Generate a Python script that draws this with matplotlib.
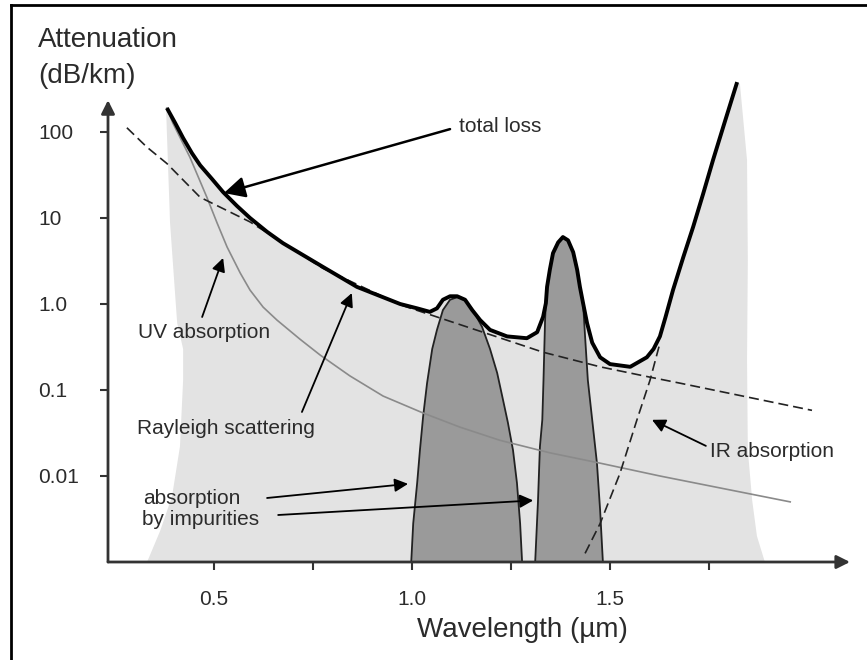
import matplotlib
matplotlib.use("Agg")
import matplotlib.pyplot as plt
from matplotlib.lines import Line2D

plt.rcParams['font.family'] = ['Liberation Sans', 'DejaVu Sans']

# total loss curve (wavelength in um, attenuation in dB/km)
total_wl = [0.381, 0.402, 0.422, 0.444, 0.465, 0.495, 0.523, 0.558, 0.591, 0.634,
            0.674, 0.725, 0.775, 0.861, 0.970, 1.013, 1.045, 1.063, 1.078, 1.096,
            1.114, 1.134, 1.152, 1.172, 1.197, 1.240, 1.290, 1.316, 1.331, 1.338,
            1.341, 1.348, 1.356, 1.369, 1.381, 1.394, 1.407, 1.417, 1.424, 1.432,
            1.442, 1.455, 1.475, 1.500, 1.551, 1.593, 1.610, 1.626, 1.640, 1.659,
            1.685, 1.710, 1.735, 1.760, 1.790, 1.821]
total_att = [190, 127, 85, 57, 41, 28.4, 20, 13.8, 10, 6.9,
             5.1, 3.7, 2.7, 1.58, 1.0, 0.89, 0.81, 0.89, 1.12, 1.23,
             1.23, 1.12, 0.85, 0.65, 0.50, 0.42, 0.40, 0.47, 0.71, 1.02,
             1.58, 2.5, 3.9, 5.2, 6.0, 5.5, 4.0, 2.5, 1.58, 1.02,
             0.60, 0.355, 0.24, 0.20, 0.186, 0.24, 0.30, 0.42, 0.70, 1.45,
             3.5, 7.9, 19, 47, 132, 380]

# Rayleigh scattering
rayleigh_wl = [0.280, 0.330, 0.381, 0.465, 0.591, 0.775, 0.970, 1.179, 1.331, 1.475, 1.601, 1.677, 2.010]
rayleigh_att = [112, 67, 43, 17.4, 9.0, 2.6, 0.98, 0.47, 0.275, 0.186, 0.141, 0.12, 0.058]

# UV absorption
uv_wl = [0.381, 0.396, 0.439, 0.482, 0.508, 0.533, 0.566, 0.591, 0.624, 0.659,
         0.717, 0.768, 0.843, 0.927, 1.028, 1.121, 1.222, 1.348, 1.475, 1.626, 1.955]
uv_att = [190, 127, 51, 17.4, 8.7, 4.6, 2.3, 1.45, 0.92, 0.65,
          0.39, 0.255, 0.146, 0.085, 0.054, 0.037, 0.026, 0.0186, 0.0141, 0.010, 0.0050]

# IR absorption
ir_wl = [1.437, 1.475, 1.525, 1.568, 1.601, 1.626]
ir_att = [0.00126, 0.0028, 0.0107, 0.045, 0.13, 0.35]

# impurity absorption peaks
peak1_wl = [0.998, 1.003, 1.013, 1.020, 1.028, 1.038, 1.051, 1.063, 1.078, 1.096,
            1.114, 1.129, 1.154, 1.177, 1.197, 1.215, 1.230, 1.242, 1.255, 1.265,
            1.273, 1.278]
peak1_att = [0.001, 0.0028, 0.0083, 0.020, 0.049, 0.12, 0.30, 0.50, 0.85, 1.12,
             1.20, 1.17, 0.85, 0.54, 0.30, 0.158, 0.076, 0.042, 0.020, 0.0083,
             0.0028, 0.001]
peak2_wl = [1.311, 1.318, 1.323, 1.329, 1.332, 1.336, 1.338, 1.341, 1.348, 1.356,
            1.369, 1.381, 1.394, 1.407, 1.417, 1.424, 1.432, 1.437, 1.444, 1.455,
            1.467, 1.475, 1.482]
peak2_att = [0.001, 0.0050, 0.022, 0.045, 0.13, 0.65, 1.02, 1.58, 2.5, 3.9,
             5.2, 6.0, 5.5, 4.0, 2.5, 1.58, 1.02, 0.42, 0.13, 0.045,
             0.0141, 0.004, 0.001]

# edges of the light grey band
band_left_wl = [0.331, 0.364, 0.394, 0.414, 0.422, 0.422, 0.407, 0.389, 0.379]
band_left_att = [0.001, 0.0023, 0.0058, 0.022, 0.13, 0.30, 0.60, 8.7, 182]
band_right_wl = [1.828, 1.846, 1.848, 1.846, 1.848, 1.859, 1.871, 1.891]
band_right_att = [363, 47, 3.2, 0.224, 0.020, 0.0052, 0.002, 0.001]

ytick_vals = [0.01, 0.1, 1, 10, 100]
ytick_labels = ['0.01', '0.1', '1.0', '10', '100']
xtick_vals = [0.5, 0.75, 1.0, 1.25, 1.5, 1.75]
xtick_labels = ['0.5', '', '1.0', '', '1.5', '']

W, H = 867, 660
fig = plt.figure(figsize=(W / 100, H / 100), dpi=100)
ax = fig.add_axes([108 / W, 98 / H, 742 / W, 502 / H])
ax.set_yscale('log')
x0, x1 = 0.2323, 2.106
y0, y1 = 1e-3, 10 ** 2.837
ax.set_xlim(x0, x1)
ax.set_ylim(y0, y1)

# grey band under the total loss curve
ax.fill(band_left_wl + total_wl + band_right_wl,
        band_left_att + total_att + band_right_att,
        color='#e3e3e3', lw=0, zorder=1)

# impurity peaks
ax.fill(peak1_wl, peak1_att, facecolor='#9a9a9a', edgecolor='#222222', lw=1.3, zorder=2)
ax.fill(peak2_wl, peak2_att, facecolor='#9a9a9a', edgecolor='#222222', lw=1.3, zorder=2)

ax.plot(uv_wl, uv_att, color='#8a8a8a', lw=1.2, zorder=3)
ax.plot(rayleigh_wl, rayleigh_att, color='#222222', lw=1.2, dashes=(6, 3), zorder=3)
ax.plot(ir_wl, ir_att, color='#222222', lw=1.2, dashes=(6, 3), zorder=3)
ax.plot(total_wl, total_att, color='black', lw=2.8, solid_capstyle='butt',
        solid_joinstyle='round', zorder=4)

# axes drawn as arrows
for s in ax.spines.values():
    s.set_visible(False)
axis_arrow = dict(arrowstyle='-|>', color='#333333', lw=2, mutation_scale=20, shrinkA=0, shrinkB=0)
ax.annotate('', xy=(x0, 10 ** 2.37), xytext=(x0, y0), arrowprops=axis_arrow, annotation_clip=False)
ax.annotate('', xy=(x1, y0), xytext=(x0, y0), arrowprops=axis_arrow, annotation_clip=False)

ax.set_yticks(ytick_vals)
ax.set_yticklabels(ytick_labels)
ax.yaxis.set_minor_locator(matplotlib.ticker.NullLocator())
ax.set_xticks(xtick_vals)
ax.set_xticklabels(xtick_labels)
ax.tick_params(axis='both', direction='out', length=6, width=1.5, color='#333333',
               labelsize=15, labelcolor='#2b2b2b')
ax.tick_params(axis='y', pad=44)
ax.tick_params(axis='x', pad=14)
for lab in ax.get_yticklabels():
    lab.set_horizontalalignment('left')

# axis titles
fig.text(38 / W, 1 - 40 / H, 'Attenuation', fontsize=20, color='#2b2b2b', va='center', ha='left')
fig.text(38 / W, 1 - 76 / H, '(dB/km)', fontsize=20, color='#2b2b2b', va='center', ha='left')
fig.text(522 / W, 1 - 630 / H, 'Wavelength (µm)', fontsize=20, color='#2b2b2b', va='center', ha='center')

# labels with arrows
txt = dict(fontsize=15, color='#2b2b2b', va='center', ha='left')
arrow = dict(arrowstyle='-|>', color='black', lw=1.3, mutation_scale=20, shrinkA=0, shrinkB=0)

ax.text(1.119, 10 ** 2.058, 'total loss', **txt)
ax.annotate('', xy=(0.525, 19.5), xytext=(1.096, 108),
            arrowprops=dict(arrow, lw=1.8, mutation_scale=32))

ax.text(0.308, 10 ** -0.326, 'UV absorption', **txt)
ax.annotate('', xy=(0.523, 3.43), xytext=(0.470, 0.706), arrowprops=arrow)

ax.text(0.306, 10 ** -1.442, 'Rayleigh scattering', **txt)
ax.annotate('', xy=(0.848, 1.34), xytext=(0.722, 0.0555), arrowprops=arrow)

ax.text(0.321, 10 ** -2.256, 'absorption', **txt)
ax.text(0.318, 10 ** -2.51, 'by impurities', **txt)
ax.annotate('', xy=(0.990, 0.0081), xytext=(0.634, 0.00555), arrowprops=arrow)
ax.annotate('', xy=(1.306, 0.0052), xytext=(0.662, 0.00352), arrowprops=arrow)

ax.text(1.753, 10 ** -1.72, 'IR absorption', **txt)
ax.annotate('', xy=(1.606, 0.045), xytext=(1.742, 0.0224), arrowprops=arrow)

# frame lines at top and left
fig.add_artist(Line2D([11 / W, 11 / W], [0, 1 - 5 / H], transform=fig.transFigure, color='black', lw=2))
fig.add_artist(Line2D([11 / W, 1], [1 - 5 / H, 1 - 5 / H], transform=fig.transFigure, color='black', lw=2))

fig.savefig('out.png', dpi=100)
